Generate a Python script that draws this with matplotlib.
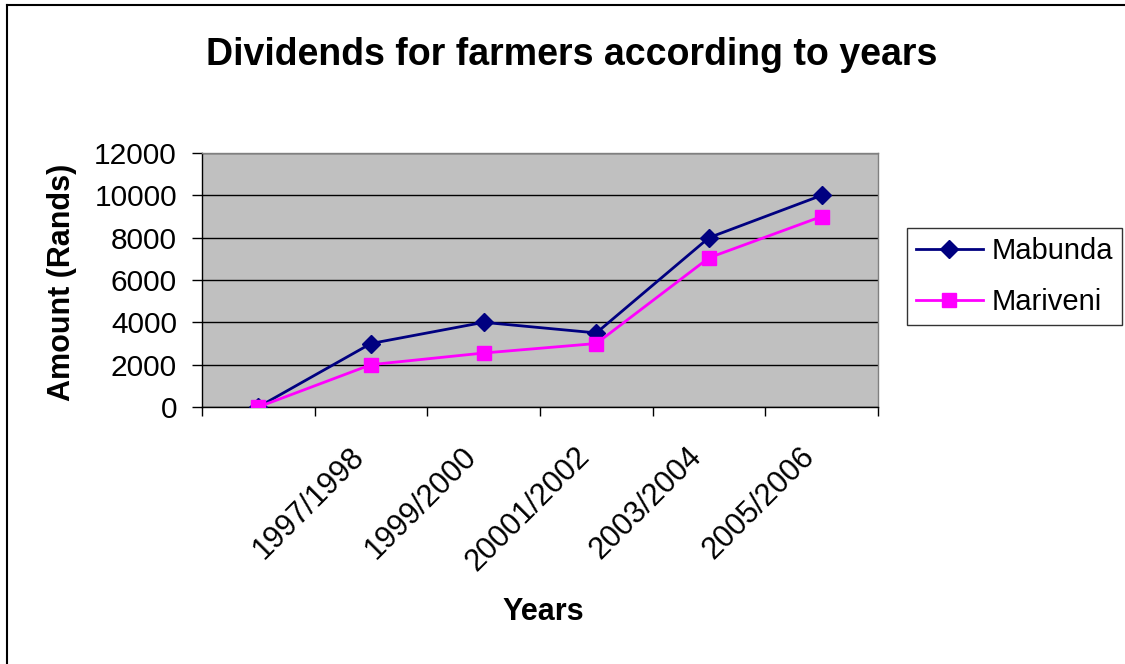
import numpy as np
import matplotlib
matplotlib.use("Agg")
from matplotlib import pyplot as plt
from matplotlib.lines import Line2D
from matplotlib.transforms import ScaledTranslation

plt.rcParams['font.family'] = ['Liberation Sans', 'DejaVu Sans']

years = ["", "1997/1998", "1999/2000", "20001/2002", "2003/2004", "2005/2006"]
mabunda = [0, 3000, 4000, 3500, 8000, 10000]
mariveni = [0, 2000, 2550, 3000, 7050, 9000]

W, H = 1125, 664
fig = plt.figure(figsize=(W / 100, H / 100), dpi=100)
ax = fig.add_axes([202 / W, 1 - 407 / H, (878 - 202) / W, (407 - 153) / H])
ax.set_facecolor("#C0C0C0")

x = np.arange(len(years))
ax.plot(x, mabunda, color="#000080", lw=2, marker="D", ms=9, label="Mabunda", zorder=3)
ax.plot(x, mariveni, color="#FF00FF", lw=2, marker="s", ms=10.5, label="Mariveni", zorder=3)

ax.set_xlim(-0.5, len(years) - 0.5)
ax.set_ylim(0, 12000)
ax.set_yticks(np.arange(0, 12001, 2000))
ax.yaxis.grid(True, color="black", lw=1)
ax.set_axisbelow(True)

# category boundaries as major ticks, names on minor ticks
ax.set_xticks(np.arange(-0.5, len(years), 1))
ax.set_xticklabels([])
ax.set_xticks(x, minor=True)
ax.set_xticklabels(years, minor=True, rotation=45, ha="right", va="top",
                   rotation_mode="anchor", fontsize=22)
ax.tick_params(axis="x", which="major", length=6.5, width=1, direction="out")
ax.tick_params(axis="x", which="minor", length=0, pad=25)
ax.tick_params(axis="y", length=7, width=1, pad=11, labelsize=21.5)

shift = ScaledTranslation(-0.22, 0, fig.dpi_scale_trans)
for lbl in ax.get_xticklabels(minor=True):
    lbl.set_transform(lbl.get_transform() + shift)

for s in ["top", "right"]:
    ax.spines[s].set_color("#808080")
    ax.spines[s].set_linewidth(1)
for s in ["left", "bottom"]:
    ax.spines[s].set_color("black")
    ax.spines[s].set_linewidth(1)

fig.text(572 / W, 1 - 55 / H, "Dividends for farmers according to years",
         ha="center", va="center", fontsize=27, fontweight="bold")
fig.text(62 / W, 1 - 282 / H, "Amount (Rands)", ha="center", va="center",
         rotation=90, fontsize=22, fontweight="bold")
fig.text(543 / W, 1 - 612 / H, "Years", ha="center", va="center",
         fontsize=22, fontweight="bold")

leg = fig.legend(loc="upper left", bbox_to_anchor=(907 / W, 1 - 228 / H),
                 fontsize=21, frameon=True, fancybox=False, edgecolor="black",
                 handlelength=2.3, handletextpad=0.3, labelspacing=0.8,
                 borderaxespad=0, borderpad=0.3)
leg.get_frame().set_linewidth(1)

# outer chart border (only top and left visible)
fig.add_artist(Line2D([7 / W, 1], [1 - 5 / H, 1 - 5 / H], color="black", lw=1.5))
fig.add_artist(Line2D([7 / W, 7 / W], [0, 1 - 5 / H], color="black", lw=1.5))

fig.savefig("out.png", dpi=100)
